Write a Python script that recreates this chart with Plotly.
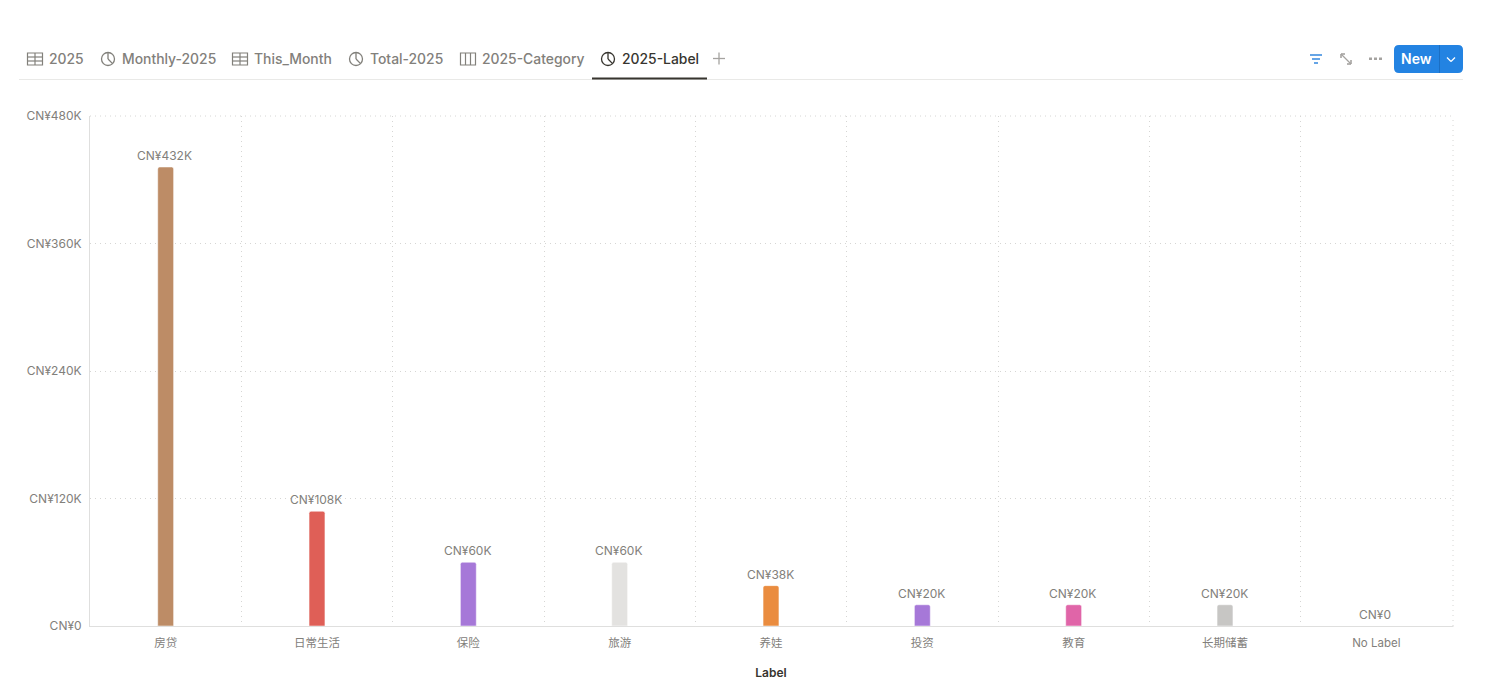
import plotly.graph_objects as go

categories = ["房贷", "日常生活", "保险", "旅游", "养娃", "投资", "教育", "长期储蓄", "No Label"]
values = [432000, 108000, 60000, 60000, 38000, 20000, 20000, 20000, 0]
bar_labels = ["CN¥432K", "CN¥108K", "CN¥60K", "CN¥60K", "CN¥38K", "CN¥20K", "CN¥20K", "CN¥20K", "CN¥0"]
bar_colors = ["#bd8c66", "#df5f57", "#a678d8", "#e3e2e0", "#ea8c3f", "#a678d8", "#e065a8", "#c7c6c4", "#c7c6c4"]
y_ticks = [0, 120000, 240000, 360000, 480000]
y_tick_labels = ["CN¥0", "CN¥120K", "CN¥240K", "CN¥360K", "CN¥480K"]
tabs = ["2025", "Monthly-2025", "This_Month", "Total-2025", "2025-Category", "2025-Label"]
tab_x = [49, 122, 254, 370, 482, 622]
tab_icons = ["table", "pie", "table", "pie", "board", "pie"]

FONT = "Inter, 'Noto Sans CJK SC', sans-serif"
GREY = "#82807b"
L, R, T, B = 90, 1452, 116, 626
W, H = 1490, 697

def px(x): return (x - L) / (R - L)
def py(y): return (B - y) / (B - T)

shapes = []
annotations = []

def line(x0, y0, x1, y1, color, width=1):
    shapes.append(dict(type="line", xref="paper", yref="paper", x0=px(x0), y0=py(y0), x1=px(x1), y1=py(y1),
                       line=dict(color=color, width=width), layer="above"))

def rect(x0, y0, x1, y1, fill=None, color=None, width=1):
    shapes.append(dict(type="rect", xref="paper", yref="paper", x0=px(x0), y0=py(y0), x1=px(x1), y1=py(y1),
                       fillcolor=fill or "rgba(0,0,0,0)", line=dict(color=color or "rgba(0,0,0,0)", width=width if color else 0), layer="above"))

def circle(cx, cy, r, color, width=1.3):
    shapes.append(dict(type="circle", xref="paper", yref="paper", x0=px(cx - r), y0=py(cy - r), x1=px(cx + r), y1=py(cy + r),
                       line=dict(color=color, width=width), layer="above"))

def text(x, y, s, size=14, color=GREY, anchor="left", weight=None):
    f = dict(family=FONT, size=size, color=color)
    if weight:
        f["weight"] = weight
    annotations.append(dict(xref="paper", yref="paper", x=px(x), y=py(y), text=s, showarrow=False,
                            xanchor=anchor, yanchor="middle", font=f))

def icon(kind, x, y, color):
    if kind == "pie":
        circle(x, y, 6.5, color)
        line(x, y - 6.5, x, y, color, 1.3)
        line(x, y, x + 4.6, y + 4.6, color, 1.3)
    else:
        rect(x - 7.5, y - 6, x + 7.5, y + 6, color=color, width=1.2)
        if kind == "table":
            line(x - 7.5, y - 2, x + 7.5, y - 2, color, 1.2)
            line(x - 7.5, y + 2, x + 7.5, y + 2, color, 1.2)
            line(x, y - 6, x, y + 6, color, 1.2)
        else:
            line(x - 2.5, y - 6, x - 2.5, y + 6, color, 1.2)
            line(x + 2.5, y - 6, x + 2.5, y + 6, color, 1.2)

# tab bar
for name, tx, ic in zip(tabs, tab_x, tab_icons):
    active = name == "2025-Label"
    c = "#37352f" if active else GREY
    text(tx - 2, 59, name, 13.9, c, weight=500)
    icon(ic, tx - 14, 59, c)
line(19, 79.5, 1463, 79.5, "#e9e9e7")
line(592, 78.5, 707, 78.5, "#37352f", 2)
line(713, 58.5, 725, 58.5, "#a5a3a0", 1.3)
line(719, 52.5, 719, 64.5, "#a5a3a0", 1.3)

# toolbar
line(1310, 55, 1322, 55, "#3f8fe0", 1.6)
line(1312, 59, 1320, 59, "#3f8fe0", 1.6)
line(1314, 63, 1318, 63, "#3f8fe0", 1.6)
line(1341, 54, 1351, 64, "#a5a3a0", 1.2)
line(1341, 54, 1345, 54, "#a5a3a0", 1.6)
line(1341, 54, 1341, 58, "#a5a3a0", 1.6)
line(1351, 64, 1347, 64, "#a5a3a0", 1.6)
line(1351, 64, 1351, 60, "#a5a3a0", 1.6)
for dx in (1370.5, 1375.5, 1380.5):
    rect(dx - 1.5, 57.5, dx + 1.5, 60, fill="#a5a3a0")
shapes.append(dict(type="path", xref="paper", yref="paper", layer="above", fillcolor="#2383e2", line=dict(width=0),
                   path=" ".join([
                       f"M {px(1399)} {py(45)} L {px(1458)} {py(45)} Q {px(1463)} {py(45)} {px(1463)} {py(50)}",
                       f"L {px(1463)} {py(68)} Q {px(1463)} {py(73)} {px(1458)} {py(73)} L {px(1399)} {py(73)}",
                       f"Q {px(1394)} {py(73)} {px(1394)} {py(68)} L {px(1394)} {py(50)} Q {px(1394)} {py(45)} {px(1399)} {py(45)} Z"])))
line(1439.5, 45, 1439.5, 73, "#1b6fc4", 1)
line(1447, 57.5, 1451, 61.5, "#ffffff", 1.2)
line(1451, 61.5, 1455, 57.5, "#ffffff", 1.2)
text(1416, 59, "New", 14, "#ffffff", anchor="center", weight=600)

# dotted top and right edges of the plot box, and the last pixel of the baseline
for x0, y0, x1, y1 in ((0, 1, px(1453), 1), (px(1453), 0, px(1453), 1)):
    shapes.append(dict(type="line", xref="paper", yref="paper", x0=x0, y0=y0, x1=x1, y1=y1, layer="below",
                       line=dict(color="#d6d6d4", width=1, dash="1px,4px")))
line(1451, 626.5, 1453.5, 626.5, "#dfdfde")

# value labels above the bars
for cat, val, lab in zip(categories, values, bar_labels):
    annotations.append(dict(xref="x", yref="y", x=cat, y=val, text=lab, showarrow=False, xanchor="center", yanchor="bottom",
                            yshift=2, xshift=-1, font=dict(family=FONT, size=12, color=GREY)))

fig = go.Figure(go.Bar(
    x=categories, y=values, width=0.105,
    marker=dict(color=bar_colors, cornerradius=2, line=dict(color="rgba(255,255,255,0.5)", width=1)),
    cliponaxis=False, hoverinfo="x+y",
))
fig.update_layout(
    width=W, height=H, autosize=False, showlegend=False, paper_bgcolor="white", plot_bgcolor="white",
    margin=dict(l=L, r=W - R, t=T, b=H - B, pad=0),
    font=dict(family=FONT, size=12, color=GREY),
    shapes=shapes, annotations=annotations,
    xaxis=dict(type="category", tickson="boundaries", showgrid=True, gridcolor="#d6d6d4", griddash="1px,4px", gridwidth=1,
               showline=True, linecolor="#dfdfde", linewidth=1, ticks="", ticklabelstandoff=6,
               tickfont=dict(family=FONT, size=11.5, color=GREY), automargin=False,
               title=dict(text="Label", standoff=19, font=dict(family=FONT, size=12, color="#37352f", weight=600))),
    yaxis=dict(range=[0, 480000], tickvals=y_ticks, ticktext=y_tick_labels, showgrid=True, gridcolor="#d6d6d4", griddash="1px,4px", gridwidth=1,
               showline=True, linecolor="#dfdfde", linewidth=1, ticks="", zeroline=False, automargin=False,
               ticklabelstandoff=5, tickfont=dict(family=FONT, size=12, color=GREY)),
)
fig.write_html("out.html", post_script="document.body.style.margin='0';", config=dict(displayModeBar=False))
